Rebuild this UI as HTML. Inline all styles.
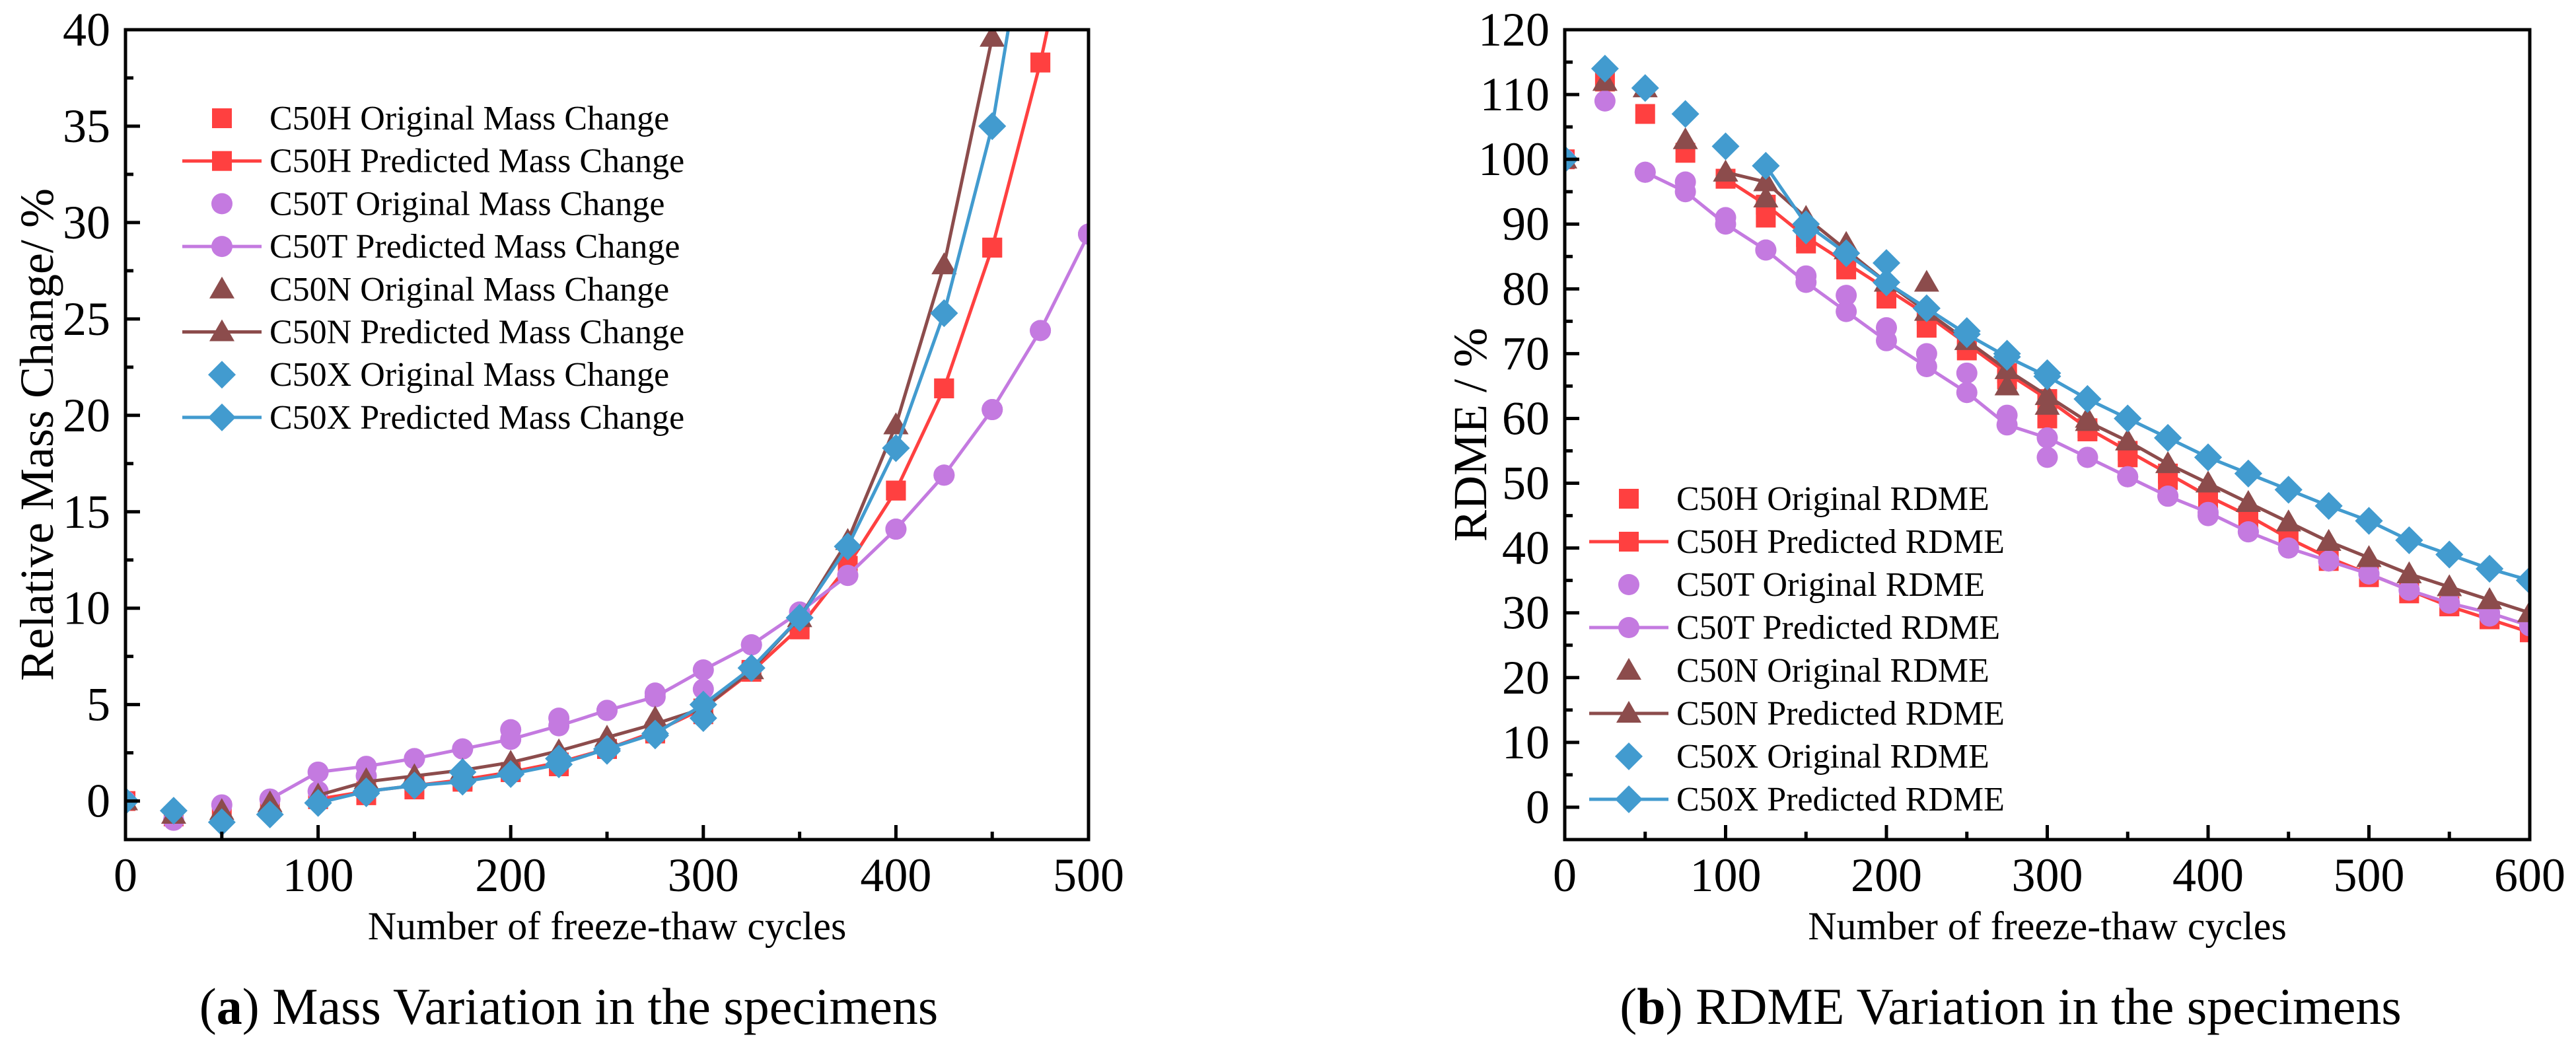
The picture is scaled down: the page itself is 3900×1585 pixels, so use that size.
<!DOCTYPE html>
<html><head><meta charset="utf-8"><style>
html,body{margin:0;padding:0;background:#fff;}
svg{display:block;}
svg text{font-family:"Liberation Serif",serif !important;}
</style></head><body>
<svg id="fig" width="3900" height="1585" viewBox="0 0 3900 1585" xmlns="http://www.w3.org/2000/svg"></svg>
<script>
// ---- Panel A data (Relative mass change) ----
const xA = [0,25,50,75,100,125,150,175,200,225,250,275,300,325,350,375,400,425,450,475,500];
const hOrigA = [0,-0.8,-0.5,-0.3,0.1,0.3,0.6,1.0,1.5,1.8,2.7,3.5,4.5,6.8,8.9,12.0,16.1,21.4,28.7,38.3];
const hPredA = [null,null,null,null,0.1,0.5,0.8,1.1,1.5,2.0,2.7,3.6,4.8,6.7,9.0,12.2,16.1,21.4,28.7,38.3,50];
const tOrigA = [0,-1.0,-0.2,0.1,0.5,1.3,2.2,2.7,3.7,4.3,4.7,5.6,5.8,8.1,9.8,11.7,14.1,16.9,20.3,24.4,29.4];
const tPredA = [null,null,null,0.1,1.5,1.8,2.2,2.7,3.2,3.9,4.7,5.4,6.8,8.1,9.8,11.7,14.1,16.9,20.3,24.4,29.4];
const nOrigA = [0,-0.7,-0.5,-0.1,0.3,1.1,1.3,1.5,2.0,2.4,3.3,4.3,4.7,6.8,9.5,13.5,19.5,27.8,39.6];
const nPredA = [null,null,null,null,0.3,1.0,1.3,1.6,2.0,2.6,3.3,4.0,4.8,6.8,9.5,13.5,19.5,27.8,39.6,55];
const xOrigA = [0,-0.5,-1.1,-0.7,-0.1,0.4,0.8,1.5,1.4,2.2,2.6,3.4,4.3,6.9,9.5,13.2,18.3,25.3,35.0];
const xPredA = [null,null,null,null,-0.1,0.5,0.8,1.0,1.4,1.9,2.7,3.5,5.0,6.9,9.5,13.2,18.3,25.3,35.0,50];
const xTicksA = [0,100,200,300,400,500];
const yTicksA = [0,5,10,15,20,25,30,35,40];
const legendA = ["C50H Original Mass Change","C50H Predicted Mass Change","C50T Original Mass Change","C50T Predicted Mass Change","C50N Original Mass Change","C50N Predicted Mass Change","C50X Original Mass Change","C50X Predicted Mass Change"];

// ---- Panel B data (RDME) ----
const xB = [0,25,50,75,100,125,150,175,200,225,250,275,300,325,350,375,400,425,450,475,500,525,550,575,600];
const hOrigB = [100,112,107,101,97,91,87,83,78.5,74,70.5,66,60,58,54,50.5,47.5,44.5,41,38,35.5,33,31,29,27];
const hPredB = [null,null,null,null,97,93,88,84,80,76,71.5,67,63,58.5,55,51.5,48,45,41.5,38.5,36,33.5,31,29,27];
const tOrigB = [100,109,98,96.5,91,86,82,79,74,70,67,60.5,54,54,51,48,45,42.5,40,38,36,33.5,31.5,29.5,28];
const tPredB = [null,null,98,95,90,86,81,76.5,72,68,64,59,57,54,51,48,45.5,42.5,40,38,36,33.5,31.5,30,28];
const nOrigB = [100,112,111,103,98,94,91,87,81,81,72,65,62,60,56.5,53,50,47,44,41,38.5,36,34,32,30];
const nPredB = [null,null,null,null,98,96.5,91,86,81,76.5,72,67.5,63.5,59.5,56.5,53,50,47,44,41,38.5,36,34,32,30];
const xOrigB = [100,114,111,107,102,99,89,85.5,84,77,73.5,70,67,63,60,57,54,51.5,49,46.5,44.2,41.2,39,36.8,35];
const xPredB = [null,null,null,null,null,99,90,85.5,81,77,73,69.5,66.5,63,60,57,54,51.5,49,46.5,44.2,41.2,39,36.8,35];
const xTicksB = [0,100,200,300,400,500,600];
const yTicksB = [0,10,20,30,40,50,60,70,80,90,100,110,120];
const legendB = ["C50H Original RDME","C50H Predicted RDME","C50T Original RDME","C50T Predicted RDME","C50N Original RDME","C50N Predicted RDME","C50X Original RDME","C50X Predicted RDME"];

const colors = ["#ff4040","#c47ae0","#8c4c4c","#429bcf"];
const shapes = ["square","circle","triangle","diamond"];
const NS = "http://www.w3.org/2000/svg";
const svg = document.getElementById("fig");

function mk(tag, attrs, parent){
  const e = document.createElementNS(NS, tag);
  for (const k in attrs) e.setAttribute(k, attrs[k]);
  if (tag==="text") e.setAttribute("style", "font-family:'Liberation Serif',serif");
  (parent||svg).appendChild(e);
  return e;
}
function marker(shape, cx, cy, color, g){
  let e;
  if (shape==="square") e = mk("rect",{x:cx-15,y:cy-15,width:30,height:30,fill:color},g);
  else if (shape==="circle") e = mk("circle",{cx:cx,cy:cy,r:16,fill:color},g);
  else if (shape==="triangle") e = mk("polygon",{points:`${cx},${cy-19} ${cx-19},${cy+14} ${cx+19},${cy+14}`,fill:color},g);
  else e = mk("polygon",{points:`${cx},${cy-21} ${cx+21},${cy} ${cx},${cy+21} ${cx-21},${cy}`,fill:color},g);
  return e;
}

function panel(cfg){
  const {id,L,R,T,B,xmin,xmax,ymin,ymax,xs,series,xTicks,yTicks,xMinor,yMinor,legend,legX,legY,legDy,yTitle,yTitleX,caption,capBold,capX} = cfg;
  const sx = v => L + (v-xmin)/(xmax-xmin)*(R-L);
  const sy = v => B - (v-ymin)/(ymax-ymin)*(B-T);
  const g = mk("g",{});
  
  
  const cid = id+"-clip";
  const cp = mk("clipPath",{id:cid},g); mk("rect",{x:L,y:T,width:R-L,height:B-T},cp);
  const plot = mk("g",{"clip-path":`url(#${cid})`},g);
  
  
  series.forEach((s,i)=>{
    const col = colors[i];
    const pts = [];
    s.pred.forEach((v,j)=>{ if (v!==null) pts.push(`${sx(xs[j])},${sy(v)}`); });
    const pl = mk("polyline",{points:pts.join(" "),fill:"none",stroke:col,"stroke-width":5,"stroke-linejoin":"round"},plot);
    
    
    s.pred.forEach((v,j)=>{
      if (v===null) return;
      const m = marker(shapes[i], sx(xs[j]), sy(v), col, plot);
      
      
    });
    s.orig.forEach((v,j)=>{
      const m = marker(shapes[i], sx(xs[j]), sy(v), col, plot);
      
      
    });
  });
  const fr = mk("rect",{x:L,y:T,width:R-L,height:B-T,fill:"none",stroke:"#000","stroke-width":5},g);
  
  
  for (let v=xmin; v<=xmax+1e-9; v+=xMinor){
    const major = xTicks.includes(v);
    const t = mk("line",{x1:sx(v),x2:sx(v),y1:B,y2:B-(major?22:12),stroke:"#000","stroke-width":5},g);
    
    
  }
  for (let v=yTicks[0]; v<=ymax+1e-9; v+=yMinor){
    const major = yTicks.includes(v);
    const t = mk("line",{x1:L,x2:L+(major?22:12),y1:sy(v),y2:sy(v),stroke:"#000","stroke-width":5},g);
    
    
  }
  xTicks.forEach(v=>{
    const t = mk("text",{x:sx(v),y:B+78,"font-size":72,"text-anchor":"middle"},g);
    t.textContent = v;
    
    
  });
  yTicks.forEach(v=>{
    const t = mk("text",{x:L-23,y:sy(v)+24,"font-size":72,"text-anchor":"end"},g);
    t.textContent = v;
    
    
  });
  const xt = mk("text",{x:(L+R)/2,y:1422,"font-size":60,"text-anchor":"middle"},g);
  xt.textContent = "Number of freeze-thaw cycles";
  
  
  const yt = mk("text",{x:yTitleX,y:658,"font-size":72,"text-anchor":"middle",transform:`rotate(-90 ${yTitleX} 658)`},g);
  yt.textContent = yTitle;
  
  
  legend.forEach((lab,k)=>{
    const i = Math.floor(k/2), pred = k%2===1;
    const y = legY + k*legDy;
    const lg = mk("g",{},g);
    
    
    if (pred) mk("line",{x1:legX-60,x2:legX+60,y1:y,y2:y,stroke:colors[i],"stroke-width":5},lg);
    marker(shapes[i], legX, y, colors[i], lg);
    const t = mk("text",{x:legX+72,y:y+17,"font-size":52},lg);
    t.textContent = lab;
  });
  const c = mk("text",{x:capX,y:1550,"font-size":78,"text-anchor":"middle"},g);
  c.innerHTML = `(<tspan font-weight="bold">${capBold}</tspan>) ${caption}`;
  
  
}

panel({id:"mass",L:190,R:1648,T:45,B:1271,xmin:0,xmax:500,ymin:-2,ymax:40,xs:xA,
  series:[{name:"c50h",orig:hOrigA,pred:hPredA},{name:"c50t",orig:tOrigA,pred:tPredA},{name:"c50n",orig:nOrigA,pred:nPredA},{name:"c50x",orig:xOrigA,pred:xPredA}],
  xTicks:xTicksA,yTicks:yTicksA,xMinor:50,yMinor:2.5,legend:legendA,legX:336,legY:179,legDy:64.7,
  yTitle:"Relative Mass Change/ %",yTitleX:80,caption:"Mass Variation in the specimens",capBold:"a",capX:861});
panel({id:"rdme",L:2369,R:3830,T:45,B:1271,xmin:0,xmax:600,ymin:-5,ymax:120,xs:xB,
  series:[{name:"c50h",orig:hOrigB,pred:hPredB},{name:"c50t",orig:tOrigB,pred:tPredB},{name:"c50n",orig:nOrigB,pred:nPredB},{name:"c50x",orig:xOrigB,pred:xPredB}],
  xTicks:xTicksB,yTicks:yTicksB,xMinor:50,yMinor:5,legend:legendB,legX:2466,legY:755,legDy:65,
  yTitle:"RDME / %",yTitleX:2250,caption:"RDME Variation in the specimens",capBold:"b",capX:3044});
</script>
</body></html>
